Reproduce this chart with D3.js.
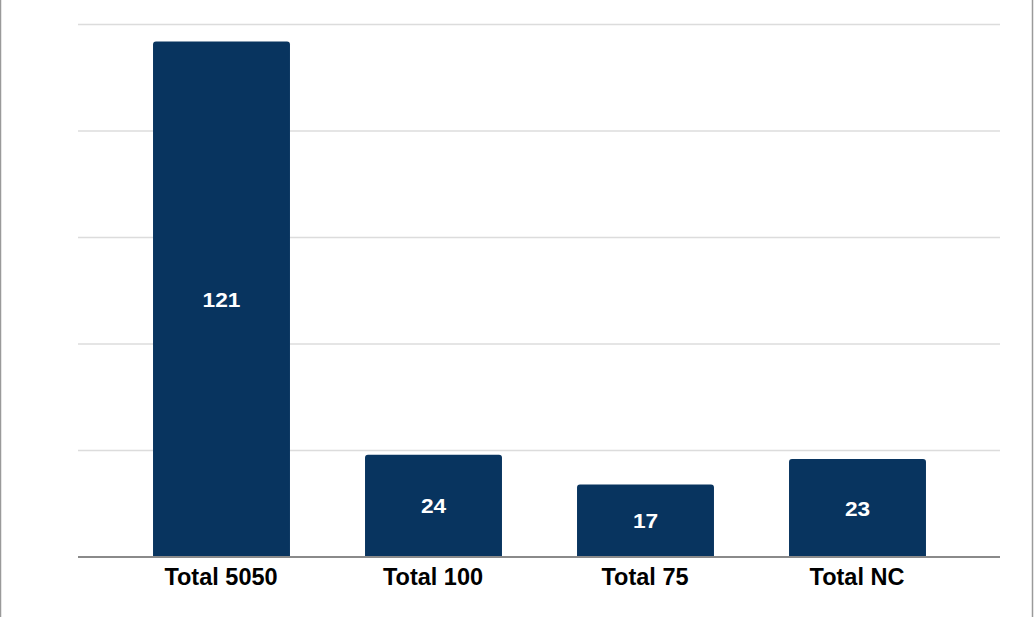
<!DOCTYPE html>
<html><head><meta charset="utf-8">
<script src="https://cdn.jsdelivr.net/npm/d3@7"></script>
<style>body{margin:0;background:#fff}svg{display:block}</style>
</head><body>
<svg id="c" width="1034" height="617"></svg>
<script>
const categories = ["Total 5050", "Total 100", "Total 75", "Total NC"];
const values = [121, 24, 17, 23];
const gridTicks = [25, 50, 75, 100, 125];

const W = 1034, H = 617;
const svg = d3.select("#c");
svg.append("rect").attr("x",0.5).attr("y",-2).attr("width",1032).attr("height",H+4)
  .attr("fill","#fff").attr("stroke","#9a9a9a").attr("stroke-width",1.5);

const x = d3.scaleBand().domain(categories).range([115, 963]).paddingInner(0.354).paddingOuter(0.177);
const y = d3.scaleLinear().domain([0, 125]).range([557, 24.5]);

// gridlines
svg.append("g").selectAll("line").data(gridTicks).join("line")
  .attr("x1",78).attr("x2",1000)
  .attr("y1",d=>y(d)).attr("y2",d=>y(d))
  .attr("stroke","#dcdcdc").attr("stroke-width",1.6);

// bars with rounded top corners
const r = 3;
svg.append("g").selectAll("path").data(values).join("path")
  .attr("fill","#08345f")
  .attr("d",(d,i)=>{
    const x0 = x(categories[i]) + 0.5, w = x.bandwidth(), yt = y(d), yb = y(0);
    return `M${x0},${yb}V${yt+r}Q${x0},${yt} ${x0+r},${yt}H${x0+w-r}Q${x0+w},${yt} ${x0+w},${yt+r}V${yb}Z`;
  });

// value labels
svg.append("g").selectAll("text").data(values).join("text")
  .attr("transform",(d,i)=>`translate(${x(categories[i])+x.bandwidth()/2+0.5},${(y(d)+y(0))/2}) scale(1.08,1)`)
  .attr("dy","0.36em")
  .attr("text-anchor","middle")
  .attr("fill","#fff")
  .attr("font-family","'Liberation Sans', Arial, sans-serif")
  .attr("font-weight","bold").attr("font-size",21)
  .text(d=>d);

// baseline axis
const xAxis = d3.axisBottom(x).tickSize(0).tickPadding(11);
const ax = svg.append("g").attr("transform","translate(0,557)").call(xAxis);
ax.select(".domain").remove();
svg.append("line").attr("x1",78).attr("x2",1000).attr("y1",557).attr("y2",557)
  .attr("stroke","#8a8a8a").attr("stroke-width",2);
ax.selectAll("text")
  .attr("font-family","'Liberation Sans', Arial, sans-serif")
  .attr("font-weight","bold").attr("font-size",23.5).attr("fill","#000");
</script>
</body></html>
